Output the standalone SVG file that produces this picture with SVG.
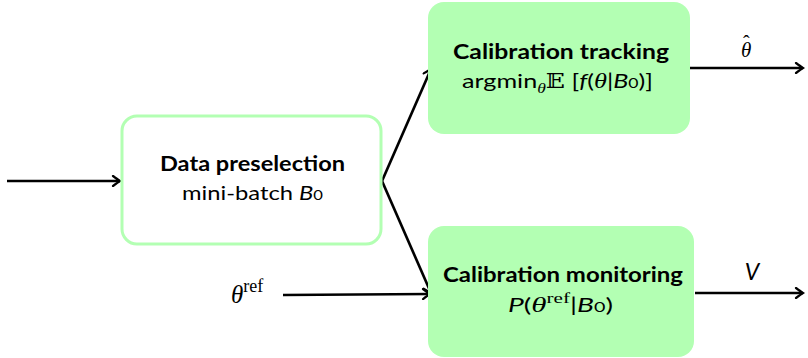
<svg xmlns="http://www.w3.org/2000/svg" width="808" height="358" viewBox="0 0 808 358">
  <defs>
    <marker id="tip" viewBox="-10 -6 12 12" markerWidth="12" markerHeight="12" refX="0" refY="0" orient="auto" markerUnits="userSpaceOnUse">
      <path d="M -7 -5 Q -2 -1.2 0 0 Q -2 1.2 -7 5" fill="none" stroke="#000" stroke-width="2.2" stroke-linecap="round"/>
    </marker>
    <style>
      .edge { fill: none; stroke: #000; stroke-width: 2.6; marker-end: url(#tip); }
      .title { font-family: Lato, "DejaVu Sans", sans-serif; font-weight: bold; font-size: 21px; text-anchor: middle; fill: #000; }
      .sub { font-family: Lato, "DejaVu Sans", sans-serif; font-size: 20px; text-anchor: middle; fill: #000; }
      .math { font-family: "Liberation Serif", "DejaVu Serif", serif; }
      .it { font-style: italic; }
      .filled { fill: #b3ffb3; stroke: none; }
      .outline { fill: #fff; stroke: #b3ffb3; stroke-width: 3; }
    </style>
  </defs>

  <!-- connectors -->
  <g id="connectors">
    <line class="edge" x1="7" y1="181" x2="120" y2="181"/>
    <polyline class="edge" points="382,181 431,69"/>
    <polyline class="edge" points="382,181 431,293"/>
    <line class="edge" x1="283" y1="295" x2="430" y2="294"/>
    <line class="edge" x1="690" y1="68" x2="803" y2="68"/>
    <line class="edge" x1="695" y1="293" x2="803" y2="293"/>
    <!-- output labels: theta with a hat accent -->
    <text class="math" font-size="21" y="57"><tspan x="741" font-style="italic">θ</tspan><tspan x="743" y="50" font-size="20">ˆ</tspan></text>
    <text x="752" y="280" font-size="23" font-family="Lato, DejaVu Sans, sans-serif" font-style="italic" text-anchor="middle">V</text>
    <!-- reference input label -->
    <text x="231" y="303" class="math" font-size="25"><tspan font-style="italic">θ</tspan><tspan font-size="18" dy="-11">ref</tspan></text>
  </g>

  <!-- preselection node -->
  <g id="preselection">
    <rect class="outline" x="122" y="116" width="259" height="128" rx="15"/>
    <text class="title" x="252.5" y="171" textLength="185" lengthAdjust="spacingAndGlyphs">Data preselection</text>
    <text class="sub" x="252.5" y="200" textLength="141" lengthAdjust="spacingAndGlyphs">mini-batch <tspan font-style="italic">B</tspan><tspan font-size="14">0</tspan></text>
  </g>

  <!-- tracking node -->
  <g id="tracking">
    <rect class="filled" x="428" y="2" width="262" height="132" rx="16"/>
    <text class="title" x="561" y="59" textLength="216" lengthAdjust="spacingAndGlyphs">Calibration tracking</text>
    <text class="sub" x="557.5" y="88" textLength="191" lengthAdjust="spacingAndGlyphs">argmin<tspan font-size="14" dy="5" class="math it">θ</tspan><tspan dy="-5" class="math" font-size="20">𝔼</tspan> [<tspan font-style="italic">f</tspan>(<tspan class="math it" font-size="21">θ</tspan>|<tspan font-style="italic">B</tspan><tspan font-size="14">0</tspan>)]</text>
  </g>

  <!-- monitoring node -->
  <g id="monitoring">
    <rect class="filled" x="428" y="226" width="266" height="131" rx="16"/>
    <text class="title" x="563" y="282" textLength="240" lengthAdjust="spacingAndGlyphs">Calibration monitoring</text>
    <text class="sub" x="560.5" y="312" textLength="105" lengthAdjust="spacingAndGlyphs"><tspan font-style="italic">P</tspan>(<tspan class="math it" font-size="22">θ</tspan><tspan class="math" font-size="15" dy="-9">ref</tspan><tspan dy="9">|</tspan><tspan font-style="italic">B</tspan><tspan font-size="14">0</tspan>)</text>
  </g>
</svg>
